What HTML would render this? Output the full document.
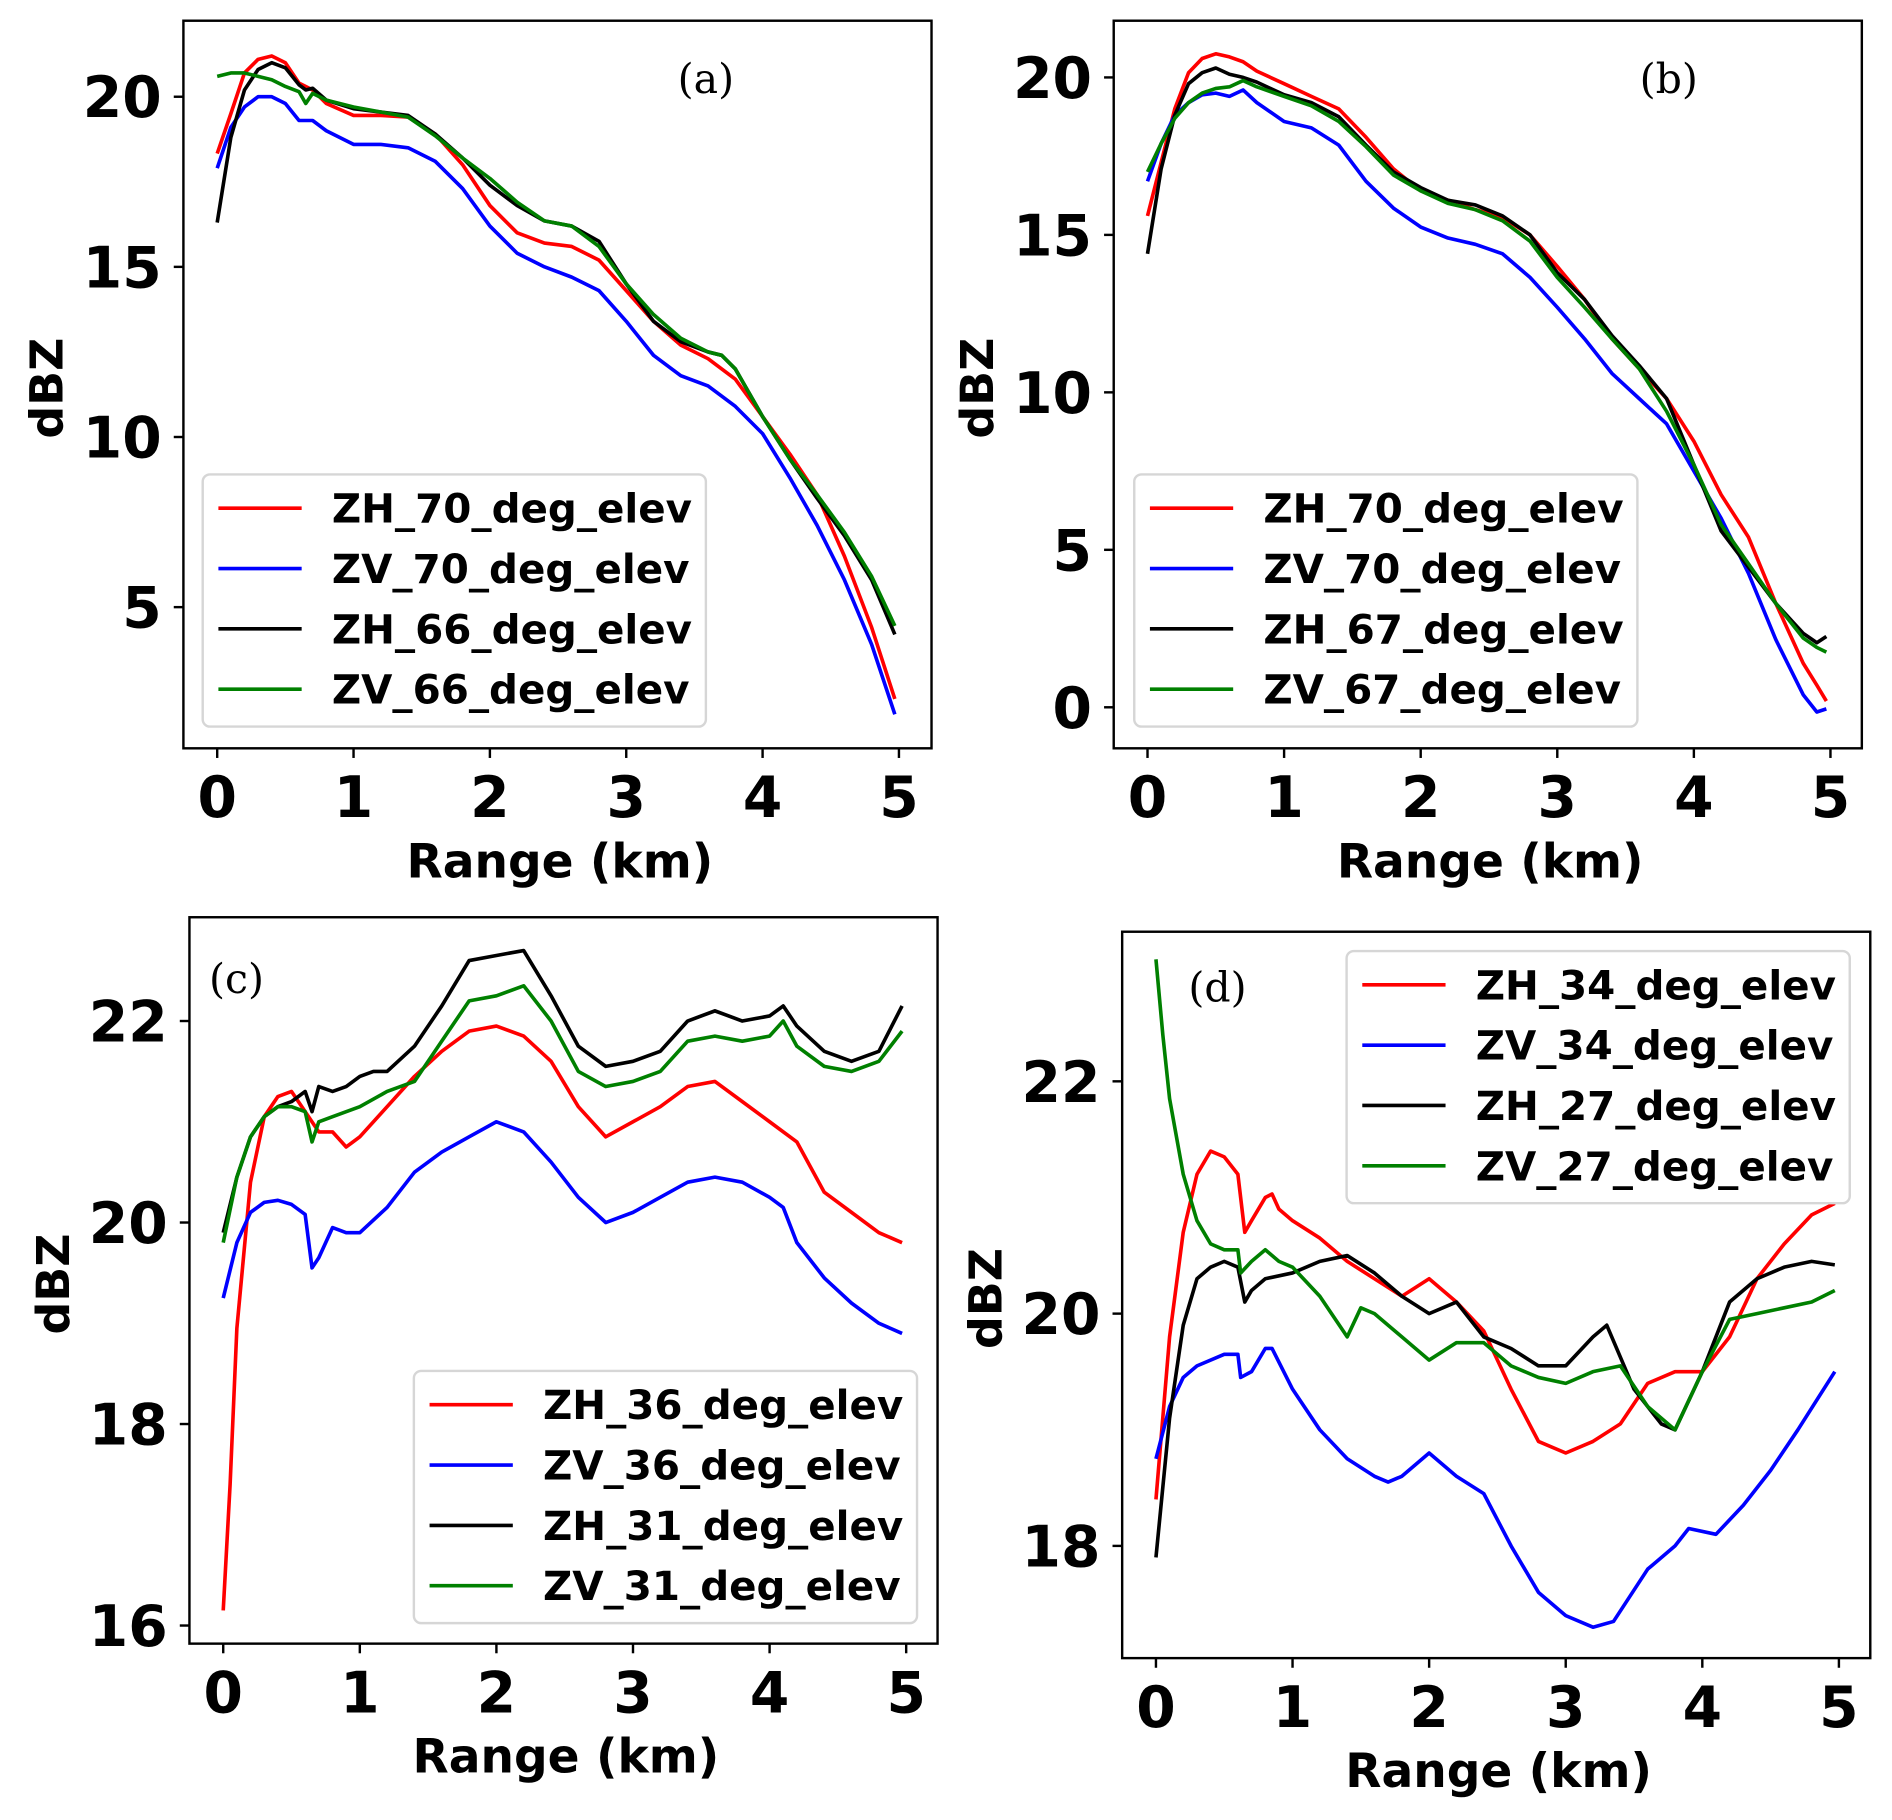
<!DOCTYPE html>
<html><head><meta charset="utf-8"><style>
html,body{margin:0;padding:0;background:#fff;}
svg{display:block;}
text{font-family:"DejaVu Sans","Liberation Sans",sans-serif;font-weight:bold;}
.pl{font-family:"DejaVu Serif","Liberation Serif",serif;font-weight:normal;}
</style></head><body>
<svg id="fig" width="1892" height="1820" viewBox="0 0 1568 1508" xmlns="http://www.w3.org/2000/svg"></svg>
<script>
// ---- Panel (a) data ----
const aR1=[0,0.1,0.2,0.3,0.4,0.5,0.6,0.7,0.8,1.0,1.2,1.4,1.6,1.8,2.0,2.2,2.4,2.6,2.8,3.0,3.2,3.4,3.6,3.8,4.0,4.2,4.4,4.6,4.8,4.97];
const aZH70=[18.33,19.5,20.7,21.1,21.2,21.0,20.4,20.2,19.8,19.45,19.45,19.4,18.9,18.0,16.8,16.0,15.7,15.6,15.2,14.3,13.4,12.7,12.3,11.7,10.6,9.5,8.3,6.5,4.4,2.3];
const aZV70=[17.9,19.1,19.7,20.0,20.0,19.8,19.3,19.3,19.0,18.6,18.6,18.5,18.1,17.3,16.2,15.4,15.0,14.7,14.3,13.4,12.4,11.8,11.5,10.9,10.1,8.8,7.4,5.8,3.9,1.85];
const aR2=[0,0.1,0.2,0.3,0.4,0.5,0.6,0.65,0.7,0.8,1.0,1.2,1.4,1.6,1.8,2.0,2.2,2.4,2.6,2.8,3.0,3.2,3.4,3.6,3.7,3.8,4.0,4.2,4.4,4.6,4.8,4.97];
const aZH66=[16.3,18.8,20.2,20.8,21.0,20.85,20.35,20.2,20.25,19.9,19.65,19.55,19.45,18.9,18.2,17.4,16.8,16.35,16.2,15.75,14.5,13.4,12.8,12.5,12.4,12.0,10.6,9.35,8.2,7.1,5.8,4.2];
const aZV66=[20.6,20.7,20.7,20.6,20.5,20.3,20.15,19.8,20.1,19.9,19.7,19.55,19.4,18.85,18.2,17.6,16.9,16.35,16.2,15.6,14.5,13.6,12.9,12.5,12.4,12.0,10.6,9.35,8.3,7.2,5.9,4.45];
// ---- Panel (b) data ----
const bR=[0,0.1,0.2,0.3,0.4,0.5,0.6,0.7,0.8,1.0,1.2,1.4,1.6,1.8,2.0,2.2,2.4,2.6,2.8,3.0,3.2,3.4,3.6,3.8,4.0,4.2,4.4,4.6,4.8,4.9,4.97];
const bZH70=[15.6,17.3,19.0,20.15,20.6,20.75,20.65,20.5,20.2,19.8,19.4,19.0,18.1,17.1,16.4,16.1,15.8,15.55,15.0,14.0,12.95,11.7,10.75,9.8,8.45,6.75,5.4,3.3,1.4,0.7,0.2];
const bZV70=[16.7,17.9,18.8,19.2,19.45,19.5,19.4,19.6,19.2,18.6,18.4,17.85,16.7,15.85,15.25,14.9,14.7,14.4,13.65,12.7,11.7,10.6,9.8,9.0,7.5,6.0,4.25,2.15,0.4,-0.15,-0.05];
const bZH67=[14.4,17.1,18.8,19.8,20.15,20.3,20.1,20.0,19.85,19.45,19.2,18.75,17.85,17.0,16.5,16.1,15.95,15.6,15.0,13.8,12.95,11.8,10.85,9.8,7.7,5.6,4.45,3.3,2.35,2.05,2.25];
const bZV67=[17.0,17.9,18.7,19.2,19.5,19.65,19.7,19.9,19.7,19.4,19.1,18.6,17.8,16.9,16.4,16.0,15.8,15.45,14.8,13.65,12.7,11.7,10.75,9.4,7.7,5.8,4.55,3.3,2.2,1.9,1.75];
// ---- Panel (c) data ----
const cR1=[0,0.05,0.1,0.2,0.3,0.4,0.5,0.55,0.6,0.7,0.8,0.9,1.0,1.2,1.4,1.6,1.8,2.0,2.2,2.4,2.6,2.8,3.0,3.2,3.4,3.6,3.8,4.0,4.2,4.4,4.6,4.8,4.97];
const cZH36=[16.15,17.4,18.95,20.4,21.05,21.25,21.3,21.2,21.1,20.9,20.9,20.75,20.85,21.15,21.45,21.7,21.9,21.95,21.85,21.6,21.15,20.85,21.0,21.15,21.35,21.4,21.2,21.0,20.8,20.3,20.1,19.9,19.8];
const cR2=[0,0.1,0.2,0.3,0.4,0.5,0.6,0.65,0.7,0.8,0.9,1.0,1.2,1.4,1.6,1.8,2.0,2.2,2.4,2.6,2.8,3.0,3.2,3.4,3.6,3.8,4.0,4.1,4.2,4.4,4.6,4.8,4.97];
const cZV36=[19.25,19.8,20.1,20.2,20.22,20.18,20.08,19.55,19.65,19.95,19.9,19.9,20.15,20.5,20.7,20.85,21.0,20.9,20.6,20.25,20.0,20.1,20.25,20.4,20.45,20.4,20.25,20.15,19.8,19.45,19.2,19.0,18.9];
const cR3=[0,0.1,0.2,0.3,0.4,0.5,0.6,0.65,0.7,0.8,0.9,1.0,1.1,1.2,1.4,1.6,1.8,2.0,2.2,2.4,2.6,2.8,3.0,3.2,3.4,3.6,3.8,4.0,4.1,4.2,4.4,4.6,4.8,4.97];
const cZH31=[19.9,20.45,20.85,21.05,21.15,21.2,21.3,21.1,21.35,21.3,21.35,21.45,21.5,21.5,21.75,22.15,22.6,22.65,22.7,22.25,21.75,21.55,21.6,21.7,22.0,22.1,22.0,22.05,22.15,21.95,21.7,21.6,21.7,22.15];
const cR4=[0,0.1,0.2,0.3,0.4,0.5,0.6,0.65,0.7,0.8,1.0,1.2,1.4,1.6,1.8,2.0,2.2,2.4,2.6,2.8,3.0,3.2,3.4,3.6,3.8,4.0,4.1,4.2,4.4,4.6,4.8,4.97];
const cZV31=[19.8,20.45,20.85,21.05,21.15,21.15,21.1,20.8,21.0,21.05,21.15,21.3,21.4,21.8,22.2,22.25,22.35,22.0,21.5,21.35,21.4,21.5,21.8,21.85,21.8,21.85,22.0,21.75,21.55,21.5,21.6,21.9];
// ---- Panel (d) data ----
const dR1=[0,0.1,0.2,0.3,0.4,0.5,0.6,0.65,0.7,0.8,0.85,0.9,1.0,1.2,1.4,1.6,1.8,2.0,2.2,2.4,2.6,2.8,3.0,3.2,3.4,3.6,3.8,4.0,4.2,4.4,4.6,4.8,4.97];
const dZH34=[18.4,19.8,20.7,21.2,21.4,21.35,21.2,20.7,20.8,21.0,21.03,20.9,20.8,20.65,20.45,20.3,20.15,20.3,20.1,19.85,19.35,18.9,18.8,18.9,19.05,19.4,19.5,19.5,19.8,20.3,20.6,20.85,20.95];
const dR2=[0,0.1,0.2,0.3,0.5,0.6,0.62,0.7,0.8,0.85,1.0,1.2,1.4,1.6,1.7,1.8,2.0,2.2,2.4,2.6,2.8,3.0,3.2,3.35,3.6,3.8,3.9,4.1,4.3,4.5,4.7,4.97];
const dZV34=[18.75,19.2,19.45,19.55,19.65,19.65,19.45,19.5,19.7,19.7,19.35,19.0,18.75,18.6,18.55,18.6,18.8,18.6,18.45,18.0,17.6,17.4,17.3,17.35,17.8,18.0,18.15,18.1,18.35,18.65,19.0,19.5];
const dR3=[0,0.1,0.2,0.3,0.4,0.5,0.6,0.65,0.7,0.8,1.0,1.2,1.4,1.6,1.8,2.0,2.2,2.4,2.6,2.8,3.0,3.2,3.3,3.5,3.7,3.8,4.0,4.2,4.4,4.6,4.8,4.97];
const dZH27=[17.9,19.1,19.9,20.3,20.4,20.45,20.4,20.1,20.2,20.3,20.35,20.45,20.5,20.35,20.15,20.0,20.1,19.8,19.7,19.55,19.55,19.8,19.9,19.35,19.05,19.0,19.5,20.1,20.3,20.4,20.45,20.42];
const dR4=[0,0.05,0.1,0.2,0.3,0.4,0.5,0.6,0.62,0.7,0.8,0.9,1.0,1.2,1.4,1.5,1.6,1.8,2.0,2.2,2.4,2.6,2.8,3.0,3.2,3.4,3.6,3.8,4.0,4.2,4.4,4.6,4.8,4.97];
const dZV27=[23.05,22.4,21.85,21.2,20.8,20.6,20.55,20.55,20.35,20.45,20.55,20.45,20.4,20.15,19.8,20.05,20.0,19.8,19.6,19.75,19.75,19.55,19.45,19.4,19.5,19.55,19.2,19.0,19.5,19.95,20.0,20.05,20.1,20.2];
// ---- tick labels ----
const xTicks=[0,1,2,3,4,5];
const aYTicks=[5,10,15,20];
const bYTicks=[0,5,10,15,20];
const cYTicks=[16,18,20,22];
const dYTicks=[18,20,22];

const NS='http://www.w3.org/2000/svg';
const svg=document.getElementById('fig');
function mk(tag,attrs,parent){const e=document.createElementNS(NS,tag);for(const k in attrs)e.setAttribute(k,attrs[k]);(parent||svg).appendChild(e);return e;}

function panel(cfg){
  const g=mk('g',{});
  
  
  const sx=v=>cfg.x0+(v-0)*(cfg.x5-cfg.x0)/5;
  const sy=v=>cfg.yA+(v-cfg.vA)*(cfg.yB-cfg.yA)/(cfg.vB-cfg.vA);
  const cp=mk('clipPath',{id:'clip'+cfg.id},g);
  mk('rect',{x:cfg.L,y:cfg.T,width:cfg.R-cfg.L,height:cfg.B-cfg.T},cp);
  cfg.series.forEach(s=>{
    const pts=s.r.map((r,i)=>sx(r).toFixed(1)+','+sy(s.v[i]).toFixed(1)).join(' ');
    const p=mk('polyline',{points:pts,fill:'none',stroke:s.c,'stroke-width':3,'stroke-linejoin':'round','clip-path':'url(#clip'+cfg.id+')'},g);
    
    
  });
  const fr=mk('rect',{x:cfg.L,y:cfg.T,width:cfg.R-cfg.L,height:cfg.B-cfg.T,fill:'none',stroke:'#000','stroke-width':2},g);
  
  
  xTicks.forEach(t=>{
    const x=sx(t);
    mk('line',{x1:x,y1:cfg.B,x2:x,y2:cfg.B+8,stroke:'#000','stroke-width':2},g);
    const tx=mk('text',{x:x,y:cfg.B+57,'text-anchor':'middle','font-size':47},g);
    tx.textContent=t;
    
    
  });
  cfg.yt.forEach(t=>{
    const y=sy(t);
    mk('line',{x1:cfg.L-8,y1:y,x2:cfg.L,y2:y,stroke:'#000','stroke-width':2},g);
    const tx=mk('text',{x:cfg.L-18,y:y+17,'text-anchor':'end','font-size':47},g);
    tx.textContent=t;
    
    
  });
  const xt=mk('text',{x:(cfg.L+cfg.R)/2+2,y:cfg.B+107,'text-anchor':'middle','font-size':39},g);
  xt.textContent='Range (km)';
  
  
  const yc=(cfg.T+cfg.B)/2+3;
  const yt=mk('text',{x:0,y:0,'text-anchor':'middle','font-size':38,transform:'translate('+(cfg.L-100)+','+yc+') rotate(-90)'},g);
  yt.textContent='dBZ';
  
  
  const pl=mk('text',{x:cfg.plx,y:cfg.ply,'text-anchor':'middle','font-size':34,class:'pl'},g);
  pl.textContent='('+cfg.id+')';
  
  
  const lg=mk('g',{},g);
  
  
  mk('rect',{x:cfg.lx,y:cfg.ly,width:417,height:209,rx:6,fill:'#fff','fill-opacity':0.85,stroke:'#d6d6d6','stroke-width':2},lg);
  cfg.series.forEach((s,i)=>{
    const y=cfg.ly+28+i*50;
    const e=mk('g',{},lg);
    
    
    mk('line',{x1:cfg.lx+13,y1:y,x2:cfg.lx+82,y2:y,stroke:s.c,'stroke-width':3},e);
    const t=mk('text',{x:cfg.lx+107,y:y+12,'font-size':33.5},e);
    t.textContent=s.n;
  });
}

panel({id:'a',L:152,R:772,T:17,B:620,x0:180,x5:745,vA:20,yA:80,vB:5,yB:503,yt:aYTicks,plx:585,ply:77,lx:168,ly:393,
 series:[{n:'ZH_70_deg_elev',c:'#ff0000',r:aR1,v:aZH70},{n:'ZV_70_deg_elev',c:'#0000ff',r:aR1,v:aZV70},{n:'ZH_66_deg_elev',c:'#000000',r:aR2,v:aZH66},{n:'ZV_66_deg_elev',c:'#008000',r:aR2,v:aZV66}]});
panel({id:'b',L:923,R:1543,T:17,B:620,x0:951,x5:1517,vA:20,yA:64,vB:0,yB:586,yt:bYTicks,plx:1383,ply:77,lx:940,ly:393,
 series:[{n:'ZH_70_deg_elev',c:'#ff0000',r:bR,v:bZH70},{n:'ZV_70_deg_elev',c:'#0000ff',r:bR,v:bZV70},{n:'ZH_67_deg_elev',c:'#000000',r:bR,v:bZH67},{n:'ZV_67_deg_elev',c:'#008000',r:bR,v:bZV67}]});
panel({id:'c',L:157,R:777,T:760,B:1362,x0:185,x5:751,vA:22,yA:846,vB:16,yB:1347,yt:cYTicks,plx:196,ply:823,lx:343,ly:1136,
 series:[{n:'ZH_36_deg_elev',c:'#ff0000',r:cR1,v:cZH36},{n:'ZV_36_deg_elev',c:'#0000ff',r:cR2,v:cZV36},{n:'ZH_31_deg_elev',c:'#000000',r:cR3,v:cZH31},{n:'ZV_31_deg_elev',c:'#008000',r:cR4,v:cZV31}]});
panel({id:'d',L:930,R:1550,T:772,B:1374,x0:958,x5:1524,vA:22,yA:896,vB:18,yB:1281,yt:dYTicks,plx:1009,ply:830,lx:1116,ly:788,
 series:[{n:'ZH_34_deg_elev',c:'#ff0000',r:dR1,v:dZH34},{n:'ZV_34_deg_elev',c:'#0000ff',r:dR2,v:dZV34},{n:'ZH_27_deg_elev',c:'#000000',r:dR3,v:dZH27},{n:'ZV_27_deg_elev',c:'#008000',r:dR4,v:dZV27}]});
</script>
</body></html>
